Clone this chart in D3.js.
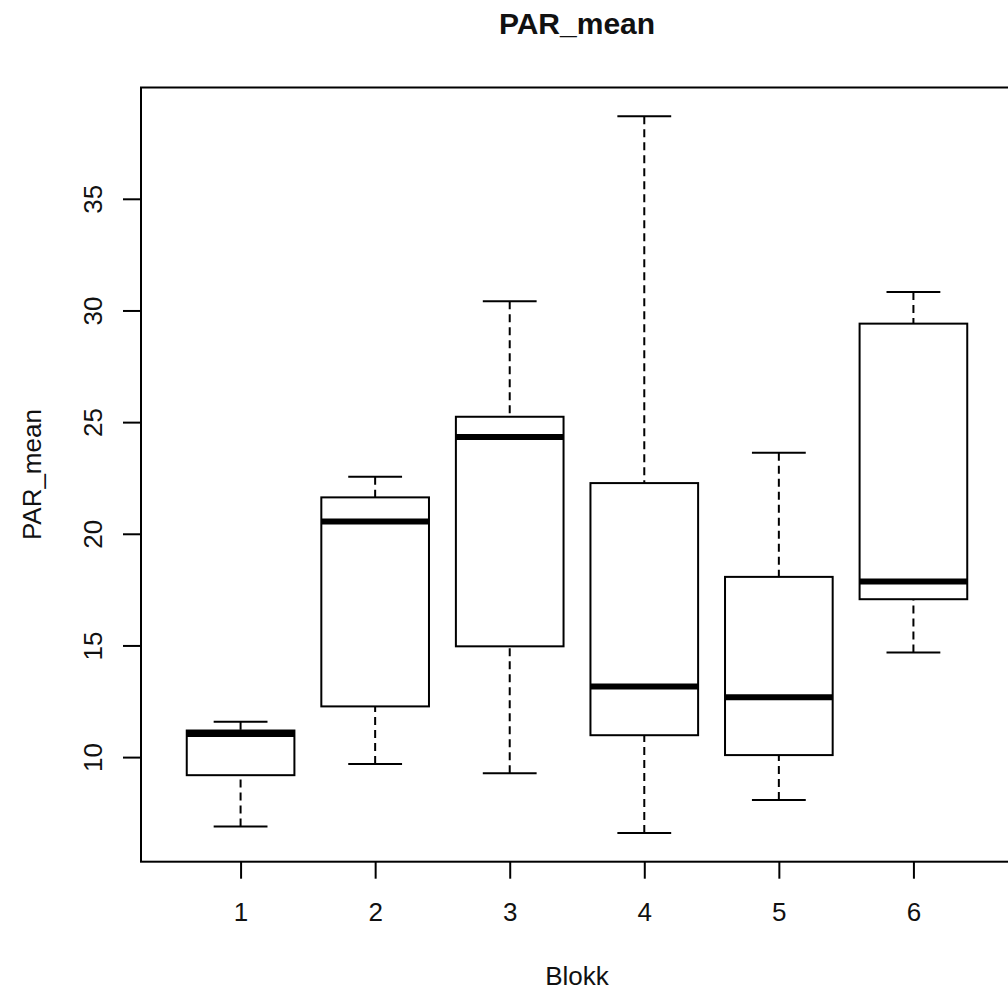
<!DOCTYPE html>
<html>
<head>
<meta charset="utf-8">
<script src="https://cdn.jsdelivr.net/npm/d3@7"></script>
<style>
  html, body { margin: 0; padding: 0; background: #fff; }
  svg { display: block; }
  text { font-family: "Liberation Sans", Arial, sans-serif; fill: #111; }
</style>
</head>
<body>
<svg id="chart" width="1008" height="990"></svg>
<script>
// Five-number summaries of PAR_mean per Blokk
const blokk   = [1, 2, 3, 4, 5, 6];
const lower   = [6.89, 9.69, 9.28, 6.60, 8.08, 14.68];
const q1      = [9.19, 12.27, 14.96, 10.98, 10.09, 17.07];
const median  = [11.03, 20.55, 24.33, 13.16, 12.68, 17.86];
const q3      = [11.19, 21.63, 25.24, 22.27, 18.07, 29.41];
const upper   = [11.58, 22.55, 30.41, 38.70, 23.63, 30.83];
const yTicks  = [10, 15, 20, 25, 30, 35];

const svg = d3.select("#chart");

const plot = { left: 141, right: 1013, top: 87.5, bottom: 861.7 };

// x: group positions with half-box padding plus 4% extension
const xMin = d3.min(blokk) - 0.5, xMax = d3.max(blokk) + 0.5;
const xPad = (xMax - xMin) * 0.04;
const x = d3.scaleLinear()
  .domain([xMin - xPad, xMax + xPad])
  .range([plot.left, plot.right]);

// y: data range extended by 4% on each side
const yLo = d3.min(lower), yHi = d3.max(upper);
const yPad = (yHi - yLo) * 0.04;
const y = d3.scaleLinear()
  .domain([yLo - yPad, yHi + yPad])
  .range([plot.bottom, plot.top]);

const boxHalf = (x(1.4) - x(1));      // box width 0.8 units
const capHalf = boxHalf / 2;          // staple half the box width

const groups = blokk.map((b, i) => ({
  b, lo: lower[i], q1: q1[i], med: median[i], q3: q3[i], hi: upper[i]
}));

const g = svg.append("g");

// whiskers (dashed), drawn from staple to box
const whisk = g.append("g")
  .attr("stroke", "#000").attr("stroke-width", 2)
  .attr("stroke-dasharray", "8,5").attr("fill", "none");
groups.forEach(d => {
  whisk.append("line").attr("x1", x(d.b)).attr("x2", x(d.b))
    .attr("y1", y(d.hi)).attr("y2", y(d.q3));
  whisk.append("line").attr("x1", x(d.b)).attr("x2", x(d.b))
    .attr("y1", y(d.lo)).attr("y2", y(d.q1));
});

// staples
const caps = g.append("g").attr("stroke", "#000").attr("stroke-width", 2);
groups.forEach(d => {
  [d.lo, d.hi].forEach(v => {
    caps.append("line")
      .attr("x1", x(d.b) - capHalf).attr("x2", x(d.b) + capHalf)
      .attr("y1", y(v)).attr("y2", y(v));
  });
});

// boxes
g.append("g").selectAll("rect").data(groups).join("rect")
  .attr("x", d => x(d.b) - boxHalf)
  .attr("width", boxHalf * 2)
  .attr("y", d => y(d.q3))
  .attr("height", d => y(d.q1) - y(d.q3))
  .attr("fill", "#fff").attr("stroke", "#000").attr("stroke-width", 2);

// medians
g.append("g").selectAll("line").data(groups).join("line")
  .attr("x1", d => x(d.b) - boxHalf).attr("x2", d => x(d.b) + boxHalf)
  .attr("y1", d => y(d.med)).attr("y2", d => y(d.med))
  .attr("stroke", "#000").attr("stroke-width", 6);

// frame
svg.append("rect")
  .attr("x", plot.left).attr("y", plot.top)
  .attr("width", plot.right - plot.left).attr("height", plot.bottom - plot.top)
  .attr("fill", "none").attr("stroke", "#000").attr("stroke-width", 2);

// x axis
const xAxis = d3.axisBottom(x).tickValues(blokk).tickFormat(d3.format("d"))
  .tickSize(17).tickPadding(24).tickSizeOuter(0);
const xa = svg.append("g").attr("transform", `translate(0,${plot.bottom})`).call(xAxis);
xa.select(".domain").remove();
xa.selectAll(".tick line").attr("stroke", "#000").attr("stroke-width", 2);
xa.selectAll(".tick text").attr("font-size", 26).attr("fill", "#111")
  .attr("font-family", "'Liberation Sans', Arial, sans-serif");

// y axis with rotated labels
const yAxis = d3.axisLeft(y).tickValues(yTicks).tickSize(18).tickSizeOuter(0);
const ya = svg.append("g").attr("transform", `translate(${plot.left},0)`).call(yAxis);
ya.select(".domain").remove();
ya.selectAll(".tick line").attr("stroke", "#000").attr("stroke-width", 2);
ya.selectAll(".tick text")
  .attr("font-size", 26).attr("fill", "#111")
  .attr("font-family", "'Liberation Sans', Arial, sans-serif")
  .attr("x", null).attr("dy", null)
  .attr("text-anchor", "middle")
  .attr("transform", "translate(-39,0) rotate(-90)");

// titles
const cx = (plot.left + plot.right) / 2;
svg.append("text").attr("x", cx).attr("y", 34)
  .attr("text-anchor", "middle").attr("font-size", 30).attr("font-weight", "bold")
  .text("PAR_mean");
svg.append("text").attr("x", cx).attr("y", 985)
  .attr("text-anchor", "middle").attr("font-size", 26)
  .text("Blokk");
svg.append("text")
  .attr("transform", `translate(41,${(plot.top + plot.bottom) / 2}) rotate(-90)`)
  .attr("text-anchor", "middle").attr("font-size", 26)
  .text("PAR_mean");
</script>
</body>
</html>
